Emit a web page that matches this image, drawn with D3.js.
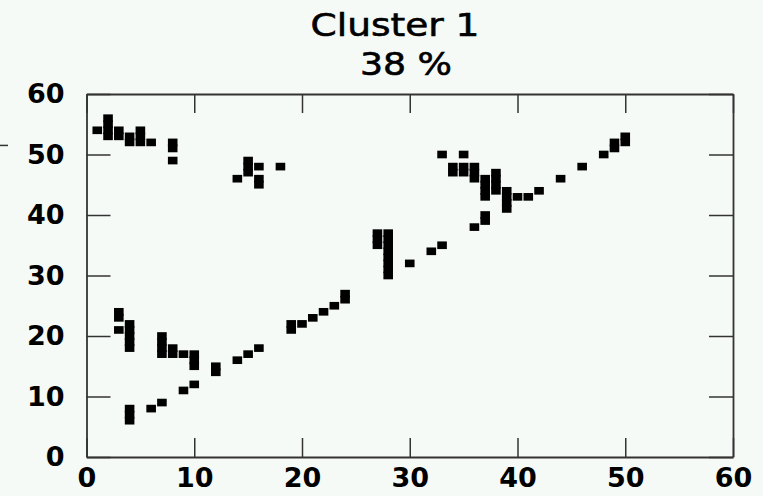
<!DOCTYPE html>
<html>
<head>
<meta charset="utf-8">
<script src="https://cdn.jsdelivr.net/npm/d3@7"></script>
<style>
  body { margin: 0; background: #f6faf7; }
  .frame line, .frame path { stroke: #333; }
  .tick text { font-family: "DejaVu Sans", sans-serif; font-weight: bold; fill: #000; }
</style>
</head>
<body>
<div id="chartDiv"></div>
<script>
// cluster cells (integer grid positions), one entry per cell
const cellX = [
  1,
  2, 2, 2, 2,
  3, 3, 3, 3, 3,
  4, 4, 4, 4, 4, 4, 4, 4, 4, 4,
  5, 5, 5,
  6, 6,
  7, 7, 7, 7, 7,
  8, 8, 8, 8, 8,
  9, 9,
  10, 10, 10, 10,
  12, 12,
  14, 14,
  15, 15, 15, 15,
  16, 16, 16, 16,
  18,
  19, 19,
  20, 21, 22, 23,
  24, 24,
  27, 27, 27,
  28, 28, 28, 28, 28, 28, 28, 28,
  30, 32,
  33, 33,
  34, 34,
  35, 35, 35,
  36, 36, 36, 36,
  37, 37, 37, 37, 37, 37,
  38, 38, 38, 38,
  39, 39, 39, 39,
  40, 41, 42, 44, 46, 48,
  49, 49,
  50, 50
];
const cellY = [
  54,
  53, 54, 55, 56,
  53, 54, 21, 23, 24,
  52, 53, 18, 19, 20, 21, 22, 6, 7, 8,
  52, 53, 54,
  52, 8,
  17, 18, 19, 20, 9,
  49, 51, 52, 17, 18,
  17, 11,
  15, 16, 17, 12,
  14, 15,
  46, 16,
  47, 48, 49, 17,
  48, 45, 46, 18,
  48,
  21, 22,
  22, 23, 24, 25,
  26, 27,
  35, 36, 37,
  30, 31, 32, 33, 34, 35, 36, 37,
  32, 34,
  35, 50,
  47, 48,
  50, 47, 48,
  46, 47, 48, 38,
  43, 44, 45, 46, 39, 40,
  44, 45, 46, 47,
  41, 42, 43, 44,
  43, 43, 44, 46, 48, 50,
  51, 52,
  52, 53
];
const xTicks = [0, 10, 20, 30, 40, 50, 60];
const yTicks = [0, 10, 20, 30, 40, 50, 60];
const titleLines = ["Cluster 1", "38 %"];

const width = 763, height = 496;
const margin = {top: 94, right: 30, bottom: 39, left: 86.5};

const svg = d3.select("#chartDiv").append("svg")
  .attr("width", width)
  .attr("height", height);

svg.append("rect")
  .attr("width", width).attr("height", height)
  .attr("fill", "#f6faf7");

const x = d3.scaleLinear().domain([0, 60]).range([margin.left, width - margin.right]);
const y = d3.scaleLinear().domain([0, 60]).range([height - margin.bottom, margin.top]);

// stray mark at the left edge
svg.append("line")
  .attr("x1", 0).attr("x2", 8)
  .attr("y1", y(51.5)).attr("y2", y(51.5))
  .attr("stroke", "#333").attr("stroke-width", 1.5);

//////////
// AXES //
//////////

svg.append("g")
  .attr("class", "frame")
  .attr("transform", "translate(0," + y(0) + ")")
  .call(d3.axisBottom(x).tickValues(xTicks).tickSizeInner(-19).tickSizeOuter(0).tickPadding(11));

svg.append("g")
  .attr("class", "frame")
  .attr("transform", "translate(0," + y(60) + ")")
  .call(d3.axisTop(x).tickValues(xTicks).tickSizeInner(-19).tickSizeOuter(0).tickFormat(""));

svg.append("g")
  .attr("class", "frame")
  .attr("transform", "translate(" + x(0) + ",0)")
  .call(d3.axisLeft(y).tickValues(yTicks).tickSizeInner(-24).tickSizeOuter(0).tickPadding(22));

svg.append("g")
  .attr("class", "frame")
  .attr("transform", "translate(" + x(60) + ",0)")
  .call(d3.axisRight(y).tickValues(yTicks).tickSizeInner(-24).tickSizeOuter(0).tickFormat(""));

svg.selectAll(".frame .domain").attr("stroke-width", 1.8);
svg.selectAll(".frame .tick line").attr("stroke-width", 1.5);
svg.selectAll(".frame .tick text").attr("font-size", 27).attr("fill", "#000");

///////////
// CELLS //
///////////

const cells = cellX.map((v, i) => ({x: v, y: cellY[i]}));
const cellW = 9.6;

svg.append("g")
  .selectAll("rect")
  .data(cells)
  .enter().append("rect")
  .attr("x", d => x(d.x) - cellW / 2)
  .attr("y", d => y(d.y + 0.5) - 0.8)
  .attr("width", cellW)
  .attr("height", d => y(d.y - 0.5) - y(d.y + 0.5) + 1.6)
  .attr("fill", "#000");

///////////
// TITLE //
///////////

svg.append("text")
  .attr("x", 395).attr("y", 36)
  .attr("text-anchor", "middle")
  .attr("font-family", "DejaVu Sans, sans-serif")
  .attr("font-size", 32)
  .attr("stroke", "#000").attr("stroke-width", 0.6)
  .attr("textLength", 169)
  .attr("lengthAdjust", "spacingAndGlyphs")
  .text(titleLines[0]);

svg.append("text")
  .attr("x", 406).attr("y", 75)
  .attr("text-anchor", "middle")
  .attr("font-family", "DejaVu Sans, sans-serif")
  .attr("font-size", 32)
  .attr("stroke", "#000").attr("stroke-width", 0.6)
  .attr("textLength", 92)
  .attr("lengthAdjust", "spacingAndGlyphs")
  .text(titleLines[1]);
</script>
</body>
</html>
